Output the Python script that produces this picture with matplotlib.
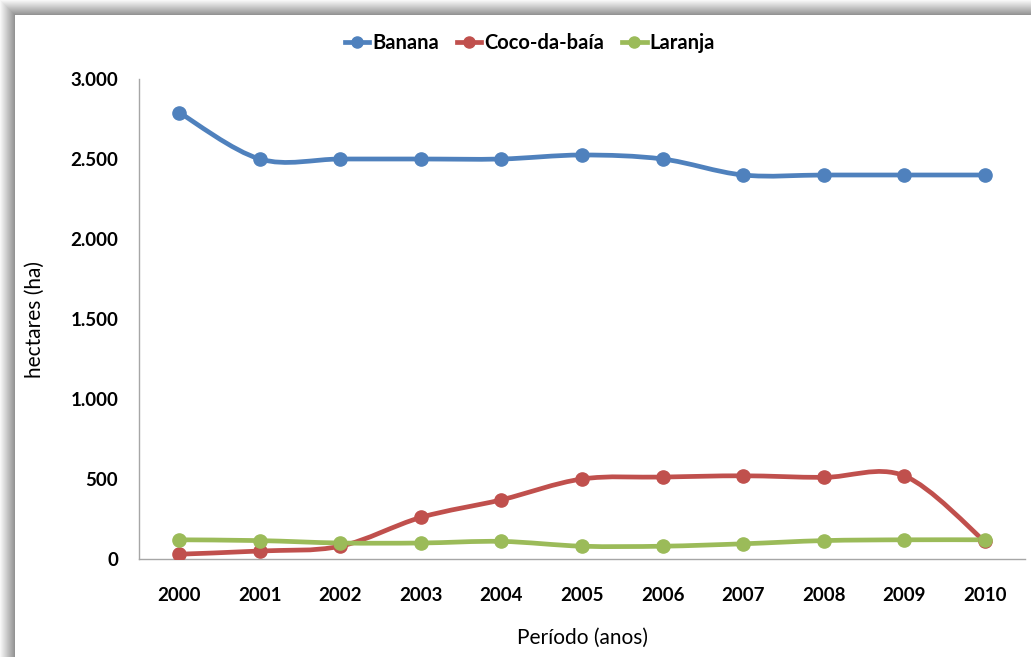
import matplotlib.pyplot as plt
from matplotlib.path import Path
from matplotlib.patches import PathPatch, Rectangle
from matplotlib.lines import Line2D
from matplotlib.ticker import FuncFormatter

anos = [2000, 2001, 2002, 2003, 2004, 2005, 2006, 2007, 2008, 2009, 2010]
banana = [2790, 2500, 2500, 2500, 2500, 2525, 2500, 2400, 2400, 2400, 2400]
coco = [30, 50, 80, 260, 370, 500, 512, 520, 510, 520, 110]
laranja = [120, 115, 100, 100, 110, 80, 80, 95, 115, 120, 120]

series = [('Banana', banana, '#4F81BD'),
          ('Coco-da-baía', coco, '#C0504D'),
          ('Laranja', laranja, '#9BBB59')]

plt.rcParams['font.family'] = ['Lato', 'DejaVu Sans']

W, H = 1031, 657


def smooth_path(xs, ys):
    # bezier segments with catmull-rom style control points
    verts = [(xs[0], ys[0])]
    codes = [Path.MOVETO]
    n = len(xs)
    for i in range(n - 1):
        i0 = max(i - 1, 0)
        i3 = min(i + 2, n - 1)
        c1 = (xs[i] + (xs[i + 1] - xs[i0]) / 6, ys[i] + (ys[i + 1] - ys[i0]) / 6)
        c2 = (xs[i + 1] - (xs[i3] - xs[i]) / 6, ys[i + 1] - (ys[i3] - ys[i]) / 6)
        verts += [c1, c2, (xs[i + 1], ys[i + 1])]
        codes += [Path.CURVE4] * 3
    return Path(verts, codes)


fig = plt.figure(figsize=(W / 100, H / 100), dpi=100)

# shadowed frame around the chart
for i in range(15):
    g = 0.97 - 0.028 * i
    fig.patches.append(Rectangle((i / W, 0), 1, 1 - i / H, transform=fig.transFigure,
                                 facecolor=(g, g, g), edgecolor='none', zorder=-10 + i * 0.01))
fig.patches.append(Rectangle((15 / W, 0), 1, 1 - 15 / H, transform=fig.transFigure,
                             facecolor='white', edgecolor='none', zorder=-9))

ax = fig.add_axes([139 / W, 1 - 559 / H, 886 / W, 480 / H])
ax.set_facecolor('none')

for nome, vals, cor in series:
    ax.add_patch(PathPatch(smooth_path(anos, vals), facecolor='none', edgecolor=cor,
                           lw=3.4, capstyle='round', joinstyle='round', zorder=3))
    ax.plot(anos, vals, linestyle='none', marker='o', markersize=9.5, color=cor, zorder=4)

ax.set_xlim(1999.5, 2010.5)
ax.set_ylim(0, 3000)
ax.set_xticks(anos)
ax.set_yticks(range(0, 3001, 500))
ax.yaxis.set_major_formatter(FuncFormatter(lambda v, p: f'{int(v):,}'.replace(',', '.')))

for s in ['top', 'right']:
    ax.spines[s].set_visible(False)
for s in ['left', 'bottom']:
    ax.spines[s].set_color('#A6A6A6')
    ax.spines[s].set_linewidth(1.0)

ax.tick_params(axis='both', length=0, labelsize=13.5)
ax.tick_params(axis='x', pad=20)
ax.tick_params(axis='y', pad=15)
for lab in ax.get_xticklabels() + ax.get_yticklabels():
    lab.set_fontweight('bold')

ax.set_xlabel('Período (anos)', fontsize=15)
ax.set_ylabel('hectares (ha)', fontsize=15)
ax.xaxis.set_label_coords(0.501, -0.143)
ax.yaxis.set_label_coords(-0.106, 0.5)

handles = [Line2D([], [], color=c, lw=3.4, marker='o', markersize=8) for _, _, c in series]
fig.legend(handles, [n for n, _, _ in series], loc='center', ncol=3, frameon=False,
           bbox_to_anchor=(530 / W, 1 - 43 / H), prop={'weight': 'bold', 'size': 14.5},
           handlelength=1.2, handletextpad=0.15, columnspacing=0.9)

fig.savefig('out.png', dpi=100)
